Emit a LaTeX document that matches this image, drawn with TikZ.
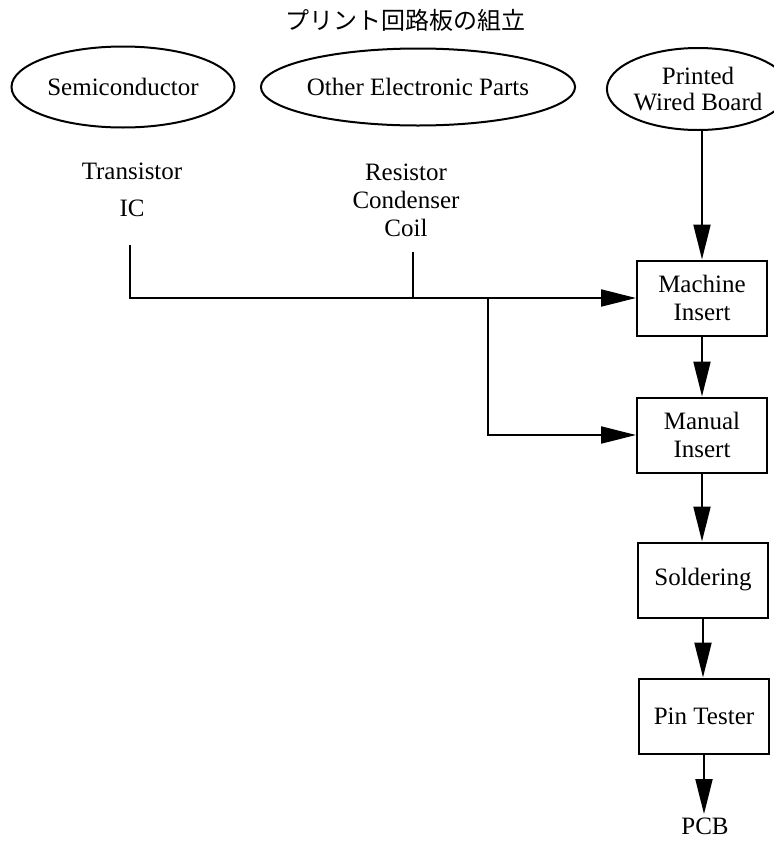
\documentclass[tikz,border=0pt]{standalone}
\usepackage{fontspec}
\setmainfont{Liberation Serif}
\newfontfamily\jpfont{Noto Sans CJK JP}
\usetikzlibrary{shapes.geometric,arrows.meta}

\begin{document}
\begin{tikzpicture}[x=1pt,y=-1pt,
    every node/.style={font=\fontsize{25}{28}\selectfont},
    part/.style={ellipse,draw,line width=2pt,inner sep=0pt,align=center},
    stage/.style={rectangle,draw,line width=2pt,minimum width=130pt,minimum height=75pt,align=center},
    wire/.style={line width=2pt},
    flow/.style={line width=2pt,-{Triangle[length=35pt,width=17pt]}}]
\useasboundingbox (0,0) rectangle (774,844);
%\fill[white] (0,0) rectangle (774,844);
\node (title) at (405,20) {\jpfont\fontsize{24}{26}\selectfont プリント回路板の組立};
\node[part,minimum width=223pt,minimum height=81pt] (semi) at (123,87) {Semiconductor};
\node[part,minimum width=270pt,minimum height=77pt] (other) at (418,87) {Other Electronic Parts};
\node[part,minimum width=148pt,minimum height=82pt] (pwb) at (698,89) {Printed\\[-2pt]Wired Board};
\node[align=center] (semilist) at (132,190) {Transistor\\[9pt]IC};
\node[align=center] (otherlist) at (406,200) {Resistor\\Condenser\\Coil};
\node[stage] (mi) at (702,298) {Machine\\Insert};
\node[stage] (ma) at (702,435) {Manual\\Insert};
\node[stage] (so) at (703,580) {Soldering};
\node[stage] (pt) at (704,716) {Pin Tester};
\node (pcb) at (705,826) {PCB};
\coordinate (semistem) at (130,245);
\coordinate (otherstem) at (413,252);
\coordinate (split) at (488,298);
\draw[flow] (semistem) |- (mi.west);
\draw[wire] (otherstem) -- (otherstem |- mi.west);
\draw[flow] (split) |- (ma.west);
\draw[flow] (pwb.south -| mi.north) -- (mi.north);
\draw[flow] (mi) -- (ma);
\draw[flow] (ma.south) -- (ma.south |- so.north);
\draw[flow] (so.south) -- (so.south |- pt.north);
\draw[flow] (pt.south) -- (pt.south |- pcb.north);
\end{tikzpicture}
\end{document}
